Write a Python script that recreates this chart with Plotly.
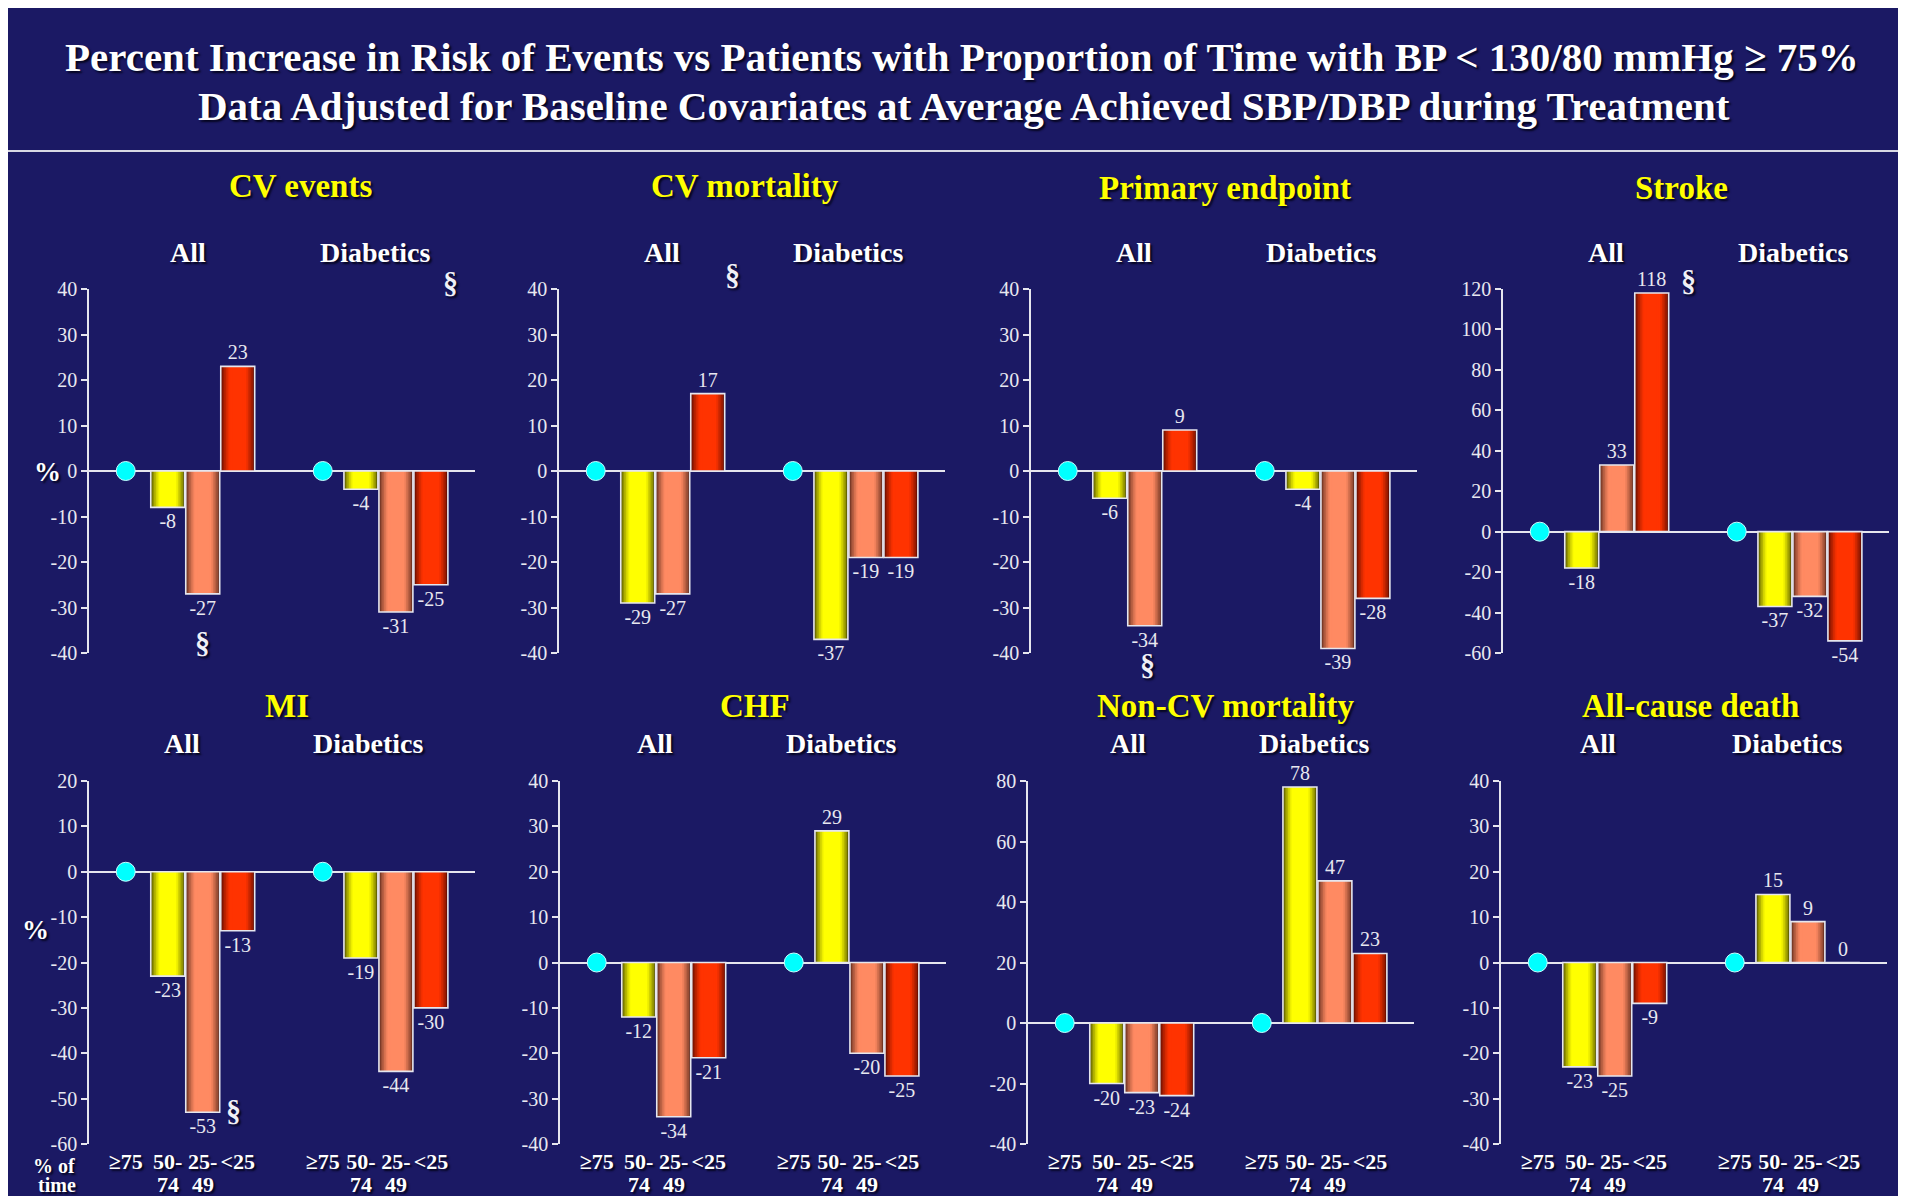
import plotly.graph_objects as go

# Page is 1906x1204; the browser body keeps its default 8px margin,
# so the figure itself is 1890x1188 and all positions below are page pixels.
PAGE_W, PAGE_H = 1906, 1204
OX, OY = 8, 8
FW, FH = PAGE_W - 2 * OX, PAGE_H - 2 * OY

# ---------------- data ----------------
title_line1 = "Percent Increase in Risk of Events vs Patients with Proportion of Time with BP &lt; 130/80 mmHg ≥ 75%"
title_line2 = "Data Adjusted for Baseline Covariates at Average Achieved SBP/DBP during Treatment"

panel_names = ["CV events", "CV mortality", "Primary endpoint", "Stroke",
               "MI", "CHF", "Non-CV mortality", "All-cause death"]
group_names = ["All", "Diabetics"]
time_categories = ["≥75", "50-74", "25-49", "<25"]
time_tick_line1 = ["≥75", "50-", "25-", "&lt;25"]
time_tick_line2 = ["", "74", "49", ""]
x_caption = ["% of", "time"]
reference_value = 0  # ">=75%" group is the reference

# values for 50-74, 25-49, <25 (% increase in risk vs >=75)
cv_events_all = [-8, -27, 23]
cv_events_diab = [-4, -31, -25]
cv_mortality_all = [-29, -27, 17]
cv_mortality_diab = [-37, -19, -19]
primary_all = [-6, -34, 9]
primary_diab = [-4, -39, -28]
stroke_all = [-18, 33, 118]
stroke_diab = [-37, -32, -54]
mi_all = [-23, -53, -13]
mi_diab = [-19, -44, -30]
chf_all = [-12, -34, -21]
chf_diab = [29, -20, -25]
noncv_all = [-20, -23, -24]
noncv_diab = [78, 47, 23]
allcause_all = [-23, -25, -9]
allcause_diab = [15, 9, 0]

# y axis: (min, max, step)
y_axes = [(-40, 40, 10), (-40, 40, 10), (-40, 40, 10), (-60, 120, 20),
          (-60, 20, 10), (-40, 40, 10), (-40, 80, 20), (-40, 40, 10)]

values_all = [cv_events_all, cv_mortality_all, primary_all, stroke_all,
              mi_all, chf_all, noncv_all, allcause_all]
values_diab = [cv_events_diab, cv_mortality_diab, primary_diab, stroke_diab,
               mi_diab, chf_diab, noncv_diab, allcause_diab]

# ---------------- layout / style ----------------
SERIF = "Liberation Serif, Times New Roman, serif"
NAVY = "#1b1964"
LINE = "#e6e6ee"
LABEL = "#e8e8f0"
SHADOW = "2px 2px 2px #05051e"

POS_A = [0.0, 1.2, 2.2, 3.2]
POS_B = [5.63, 6.72, 7.72, 8.72]
X_RANGE = [-1.05, 9.98]
BAR_W = 0.97
PLOT_W = 386

axis_left = [[89, 559, 1031, 1503], [89, 560, 1028, 1501]]
row_y = [(289, 653), (781, 1144)]

title_pos = [[(300, 186), (745, 186), (1225, 188), (1681, 188)],
             [(287, 706), (755, 706), (1225, 706), (1690, 706)]]
sub_all_x = [[188, 662, 1134, 1606], [182, 655, 1128, 1598]]
sub_diab_x = [[375, 848, 1321, 1793], [368, 841, 1314, 1787]]
sub_y = [253, 743]
tick_line2_y = 1184
section_marks = [(450, 282), (202, 642), (732, 275), (1147, 664), (1688, 280), (233, 1110)]

bar_dark = ["#5e5e00", "#6a3120", "#680e00"]
bar_bright = ["#ffff00", "#ff8a62", "#ff3300"]


def px(x):
    return (x - OX) / FW


def py(y):
    return 1 - (y - OY) / FH


def hex2rgb(h):
    h = h.lstrip("#")
    return tuple(int(h[i:i + 2], 16) for i in (0, 2, 4))


def mix(c1, c2, t):
    a, b = hex2rgb(c1), hex2rgb(c2)
    return "rgb(%d,%d,%d)" % tuple(round(a[i] + (b[i] - a[i]) * t) for i in range(3))


def text_ann(text, x, y, size, color="#ffffff", shadow=SHADOW):
    return dict(text=text, x=px(x), y=py(y), xref="paper", yref="paper",
                showarrow=False, xanchor="center", yanchor="middle",
                font=dict(family=SERIF, size=size, color=color, shadow=shadow))


TICKFONT_BOLD = dict(family=SERIF, size=22, color="#ffffff", weight="bold", shadow=SHADOW)

fig = go.Figure()
annotations = []
layout_axes = {}

N_LAYERS = 8
for i, name in enumerate(panel_names):
    row, col = divmod(i, 4)
    xa = "x" if i == 0 else "x%d" % (i + 1)
    ya = "y" if i == 0 else "y%d" % (i + 1)
    xkey = "xaxis" if i == 0 else "xaxis%d" % (i + 1)
    ykey = "yaxis" if i == 0 else "yaxis%d" % (i + 1)
    left = axis_left[row][col]
    ytop, ybot = row_y[row]
    lo, hi, step = y_axes[i]
    ticks = list(range(lo, hi + 1, step))
    xdom = [px(left), px(left + PLOT_W)]

    layout_axes[xkey] = dict(
        domain=xdom, anchor=ya, range=X_RANGE, automargin=False,
        showgrid=False, zeroline=False, showline=False, ticks="",
        tickvals=POS_A + POS_B, ticktext=time_tick_line1 * 2,
        showticklabels=(row == 1), ticklabelstandoff=2,
        tickfont=TICKFONT_BOLD, fixedrange=True,
    )
    layout_axes[ykey] = dict(
        domain=[py(ybot), py(ytop)], anchor=xa, range=[lo, hi], automargin=False,
        tickvals=ticks, ticktext=[str(t) for t in ticks],
        showgrid=False, showline=True, linecolor=LINE, linewidth=1.5,
        ticks="outside", ticklen=6, tickwidth=1.5, tickcolor=LINE,
        zeroline=True, zerolinecolor=LINE, zerolinewidth=1.5,
        tickfont=dict(family=SERIF, size=20, color=LABEL),
        fixedrange=True,
    )
    if row == 1:
        # second line of the "% of time" category labels
        for pos, txt in zip(POS_A + POS_B, time_tick_line2 * 2):
            if txt:
                annotations.append(dict(
                    text=txt, x=pos, xref=xa, y=py(tick_line2_y), yref="paper",
                    showarrow=False, xanchor="center", yanchor="middle", font=TICKFONT_BOLD))

    for j in range(3):
        xs = [POS_A[j + 1], POS_B[j + 1]]
        ys = [values_all[i][j], values_diab[i][j]]
        for k in range(N_LAYERS):
            t = k / (N_LAYERS - 1)
            fig.add_trace(go.Bar(
                x=xs, y=ys, xaxis=xa, yaxis=ya,
                width=BAR_W * (1 - 0.7 * t),
                marker=dict(color=mix(bar_dark[j], bar_bright[j], min(1.0, t * 1.5) ** 0.75),
                            line=dict(width=0)),
                showlegend=False, hoverinfo="skip",
            ))
        fig.add_trace(go.Bar(
            x=xs, y=ys, xaxis=xa, yaxis=ya, width=BAR_W,
            marker=dict(color="rgba(0,0,0,0)", line=dict(width=1.6, color=LINE)),
            text=[str(v) for v in ys], textposition="outside", constraintext="none",
            textfont=dict(family=SERIF, size=20, color=LABEL), cliponaxis=False,
            showlegend=False, hoverinfo="skip",
        ))

    fig.add_trace(go.Scatter(
        x=[POS_A[0], POS_B[0]], y=[reference_value, reference_value], xaxis=xa, yaxis=ya,
        mode="markers", marker=dict(size=19, color="#00ffff", line=dict(width=1, color="#c8ffff")),
        cliponaxis=False, showlegend=False, hoverinfo="skip",
    ))

    tx, ty = title_pos[row][col]
    annotations.append(text_ann("<b>%s</b>" % name, tx, ty, 33, color="#ffff00"))
    annotations.append(text_ann("<b>%s</b>" % group_names[0], sub_all_x[row][col], sub_y[row], 28))
    annotations.append(text_ann("<b>%s</b>" % group_names[1], sub_diab_x[row][col], sub_y[row], 28))

# % labels and x caption
annotations.append(text_ann("<b>%</b>", 47, 472, 27))
annotations.append(text_ann("<b>%</b>", 35, 930, 27))
annotations.append(text_ann("<b>%s</b>" % x_caption[0], 54, 1166, 20))
annotations.append(text_ann("<b>%s</b>" % x_caption[1], 57, 1185, 20))
for sx, sy in section_marks:
    annotations.append(text_ann("<b>§</b>", sx, sy, 30, color="#f0f0f6"))

# main title
annotations.append(text_ann("<b>%s</b>" % title_line1, 962, 57, 41))
annotations.append(text_ann("<b>%s</b>" % title_line2, 964, 106, 41))

shapes = [
    dict(type="line", xref="paper", yref="paper", x0=0, x1=1, y0=py(151), y1=py(151),
         line=dict(color="#d8d8e4", width=2)),
]

fig.update_layout(
    width=FW, height=FH, margin=dict(l=0, r=0, t=0, b=0, pad=0, autoexpand=False),
    paper_bgcolor=NAVY, plot_bgcolor="rgba(0,0,0,0)",
    barmode="overlay", showlegend=False,
    annotations=annotations, shapes=shapes, **layout_axes,
)

fig.write_html("out.html", config={"displayModeBar": False})
